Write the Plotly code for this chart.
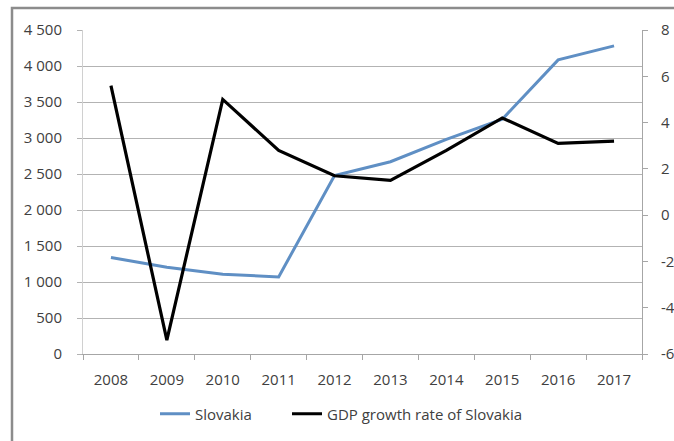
import plotly.graph_objects as go

years = ["2008", "2009", "2010", "2011", "2012", "2013", "2014", "2015", "2016", "2017"]
slovakia = [1340, 1205, 1108, 1070, 2480, 2670, 2980, 3260, 4085, 4280]
gdp_growth = [5.6, -5.4, 5.0, 2.8, 1.7, 1.5, 2.8, 4.2, 3.1, 3.2]

left_ticks = [0, 500, 1000, 1500, 2000, 2500, 3000, 3500, 4000, 4500]
left_labels = ["0", "500", "1 000", "1 500", "2 000", "2 500", "3 000", "3 500", "4 000", "4 500"]
right_ticks = [-6, -4, -2, 0, 2, 4, 6, 8]
right_labels = ["-6", "-4", "-2", "0", "2", "4", "6", "8"]

W, H = 674, 441
L, R, T, B = 83, 642, 30, 355

fig = go.Figure()
fig.add_trace(go.Scatter(x=years, y=slovakia, mode="lines", name="Slovakia",
                         line=dict(color="#5f8fc4", width=3), yaxis="y", legend="legend"))
fig.add_trace(go.Scatter(x=years, y=gdp_growth, mode="lines", name="GDP growth rate of Slovakia",
                         line=dict(color="#000000", width=3.2), yaxis="y2", legend="legend2"))

font = dict(family="Open Sans, Lato, sans-serif", size=15, color="#404040")
pw, ph = R - L, B - T
leg_y = (B - 414) / ph

fig.update_layout(
    width=W, height=H,
    margin=dict(l=L, r=W - R, t=T, b=H - B, pad=0),
    paper_bgcolor="white", plot_bgcolor="white",
    font=font,
    showlegend=True,
    legend=dict(orientation="h", x=(155 - L) / pw, xanchor="left", y=leg_y, yanchor="middle",
                font=font, itemwidth=30, bgcolor="rgba(0,0,0,0)"),
    legend2=dict(orientation="h", x=(287 - L) / pw, xanchor="left", y=leg_y, yanchor="middle",
                 font=font, itemwidth=30, bgcolor="rgba(0,0,0,0)"),
    xaxis=dict(type="category", showgrid=False, ticks="outside", tickson="boundaries",
               ticklen=5, tickcolor="#a6a6a6", showline=True, linecolor="#a6a6a6", linewidth=1,
               tickfont=font, range=[-0.5, 9.5], zeroline=False, automargin=False,
               ticklabelstandoff=12),
    yaxis=dict(range=[0, 4500], tickvals=left_ticks, ticktext=left_labels,
               showgrid=True, gridcolor="#b3b3b3", gridwidth=1,
               ticks="outside", ticklen=5, tickcolor="#b3b3b3",
               showline=True, linecolor="#d0d0d0", linewidth=1,
               zeroline=False, tickfont=font, automargin=False, ticklabelstandoff=12),
    yaxis2=dict(range=[-6, 8], tickvals=right_ticks, ticktext=right_labels,
                overlaying="y", side="right",
                showgrid=False, ticks="outside", ticklen=5, tickcolor="#a6a6a6",
                showline=True, linecolor="#a6a6a6", linewidth=1,
                zeroline=False, tickfont=font, automargin=False, ticklabelstandoff=10),
    shapes=[dict(type="rect", xref="paper", yref="paper",
                 x0=(12 - L) / pw, x1=(W + 20 - L) / pw,
                 y0=(B - (H + 20)) / ph, y1=(B - 8) / ph,
                 line=dict(color="#8c8c8c", width=2.5), fillcolor="rgba(0,0,0,0)", layer="below")],
)

fig.write_html("out.html", config={"displayModeBar": False},
               post_script="document.body.style.margin='0';document.body.style.overflow='hidden';")
